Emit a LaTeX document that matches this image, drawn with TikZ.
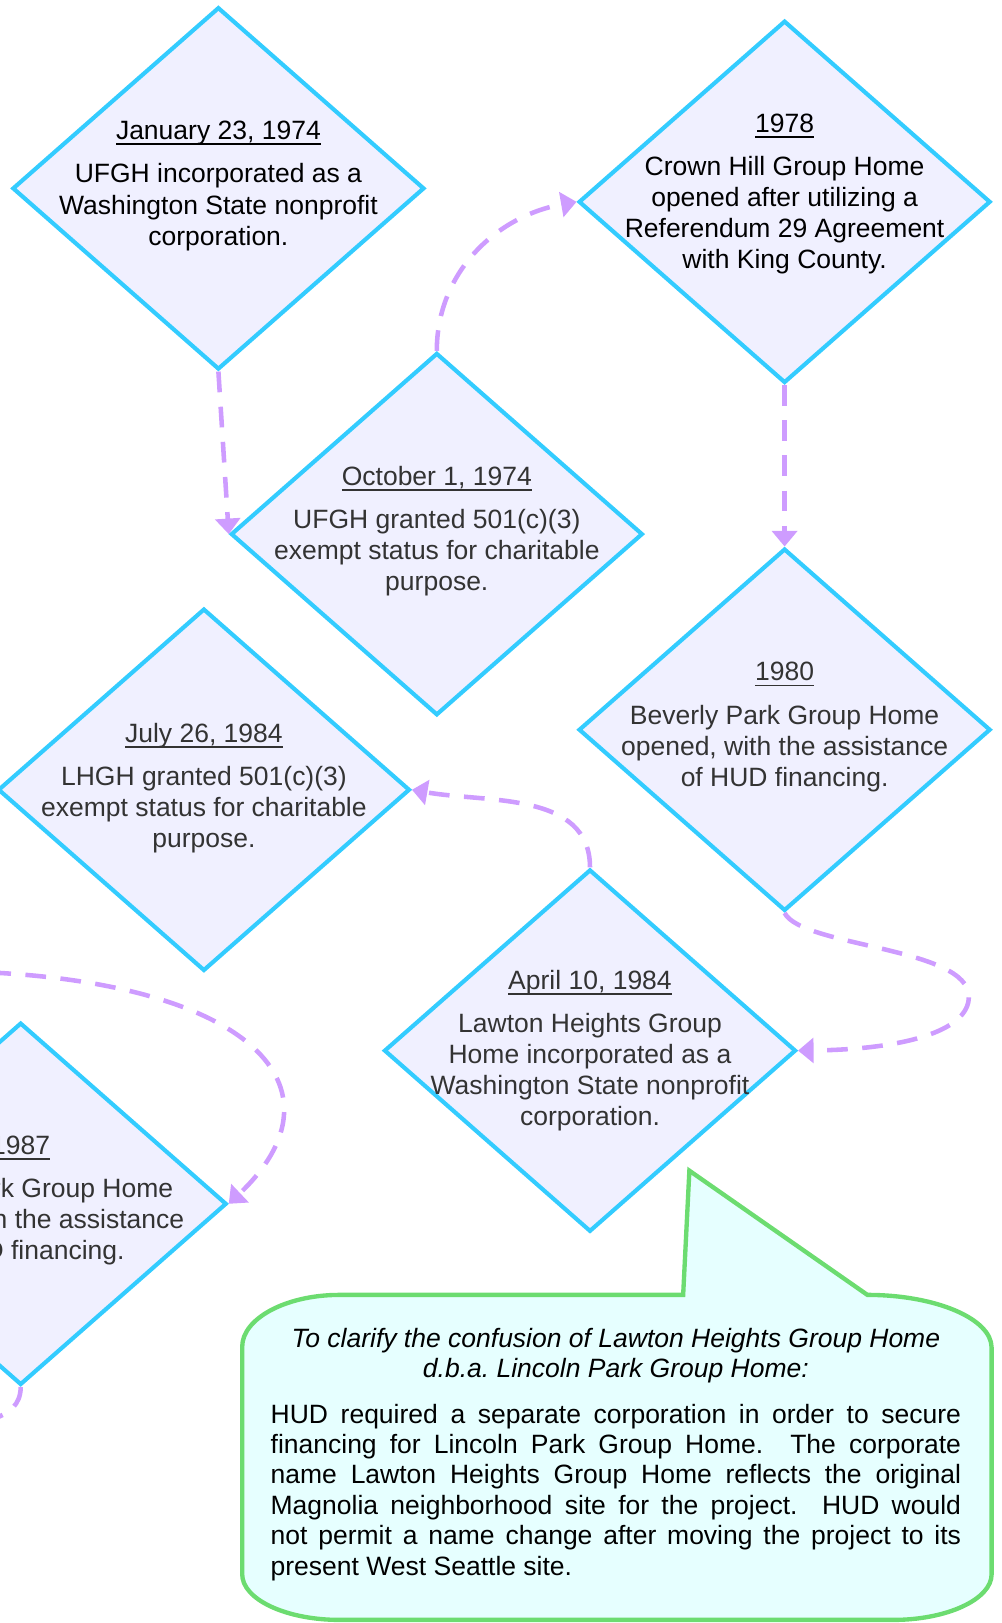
\documentclass[tikz,border=0pt]{standalone}
\usepackage{fontspec}
\setmainfont{Liberation Sans}
\usepackage{xcolor}
\usepackage{tikz}
\usetikzlibrary{arrows.meta,positioning,shapes.geometric}
\definecolor{eventLine}{RGB}{51,204,255}
\definecolor{eventFill}{RGB}{240,240,255}
\definecolor{eventInk}{RGB}{51,51,51}
\definecolor{linkPurple}{RGB}{206,156,255}
\definecolor{noteLine}{RGB}{108,220,112}
\definecolor{noteFill}{RGB}{230,255,255}
\newcommand{\EvW}{199pt}
\newcommand{\EvH}{175pt}
\newsavebox{\datebox}
\newcommand{\DateUL}[1]{%
  \sbox{\datebox}{#1}%
  \rlap{\rule[-2.7pt]{\wd\datebox}{0.9pt}}\usebox{\datebox}%
}
\tikzset{
  event/.style={diamond, draw=eventLine, fill=eventFill, line width=2pt,
    minimum width=\EvW, minimum height=\EvH, inner sep=0pt},   % timeline diamond
  eventText/.style={align=center, inner sep=0pt, text=eventInk,
    font=\fontsize{12.8}{15}\selectfont},
  link/.style={draw=linkPurple, line width=2.2pt, dash pattern=on 10pt off 7pt,
    -{Triangle[length=7.5pt,width=12pt]}},                     % dashed connector
  note/.style={draw=noteLine, fill=noteFill, line width=2.1pt},  % balloon
  noteText/.style={inner sep=0pt, text=black, font=\fontsize{12.8}{14.7}\selectfont}
}
% #1 text style, #2 name, #3 x, #4 y, #5 text lift, #6 date, #7 body
\newcommand{\Event}[7][]{%
  \node[event] (#2) at (#3,#4) {};
  \node[eventText,#1] (#2txt) at (#3,{#4+#5}) {\DateUL{#6}\\[6pt]#7};
}

\begin{document}
\begin{tikzpicture}[x=0.5pt,y=0.5pt]
  \useasboundingbox (0,0) rectangle (968,-1568);
  \clip (0,0) rectangle (968,-1568);
  % events
  \Event[text=black]{J74}{211}{-182}{2.5}{January 23, 1974}{UFGH incorporated as a\\Washington State nonprofit\\corporation.}
  \Event{O74}{422}{-516}{3}{October 1, 1974}{UFGH granted 501(c)(3)\\exempt status for charitable\\purpose.}
  \Event[text=black]{C78}{758}{-195}{7.5}{1978}{Crown Hill Group Home\\opened after utilizing a\\Referendum 29 Agreement\\with King County.}
  \Event{B80}{758}{-705}{2.5}{1980}{Beverly Park Group Home\\opened, with the assistance\\of HUD financing.}
  \Event{A84}{570}{-1015}{0}{April 10, 1984}{Lawton Heights Group\\Home incorporated as a\\Washington State nonprofit\\corporation.}
  \Event{L84}{197}{-763}{1.5}{July 26, 1984}{LHGH granted 501(c)(3)\\exempt status for charitable\\purpose.}
  \Event{N87}{20}{-1163}{3}{1987}{Lincoln Park Group Home\\opened, with the assistance\\of HUD financing.}
  % connectors
  \draw[link] (J74.south) -- (O74.west);
  \draw[link] (O74.north) to[out=90,in=190] (C78.west);
  \draw[link] (C78.south) -- (B80.north);
  \draw[link] (B80.south) .. controls (775,-915) and (936,-915) .. (936,-963)
    .. controls (936,-997) and (870,-1014) .. (A84.east);
  \draw[link] (A84.north) to[out=90,in=-10] (L84.east);
  \draw[link] (L84.west) .. controls (-150,-763) and (-150,-931) .. (0,-940)
    .. controls (250,-955) and (335,-1055) .. (N87.east);
  \coordinate (offBL) at (-60,-1375);
  \draw[link] (N87.south) to[out=-90,in=0] (offBL);
  % note balloon
  \draw[note] (328,-1251) -- (660,-1251) -- (666,-1131) -- (838,-1251)
    .. controls (904,-1251) and (958,-1274) .. (958,-1302) -- (958,-1521)
    .. controls (958,-1545) and (915,-1565) .. (863,-1565) -- (328,-1565)
    .. controls (276,-1565) and (234,-1545) .. (234,-1521) -- (234,-1301)
    .. controls (234,-1274) and (276,-1251) .. (328,-1251) -- cycle;
  \node[noteText, align=center, font=\fontsize{12.8}{14.5}\selectfont\itshape]
    (noteHead) at (595,-1310)
    {To clarify the confusion of Lawton Heights Group Home\\d.b.a.\ Lincoln Park Group Home:};
  \node[noteText, text width=333.5pt, align=justify, below=9.5pt of noteHead] (noteBody)
    {\noindent HUD required a separate corporation in order to secure\linebreak
     financing for Lincoln Park Group Home.  The corporate\linebreak
     name Lawton Heights Group Home reflects the original\linebreak
     Magnolia neighborhood site for the project.  HUD would\linebreak
     not permit a name change after moving the project to its\linebreak
     present West Seattle site.};
\end{tikzpicture}
\end{document}
